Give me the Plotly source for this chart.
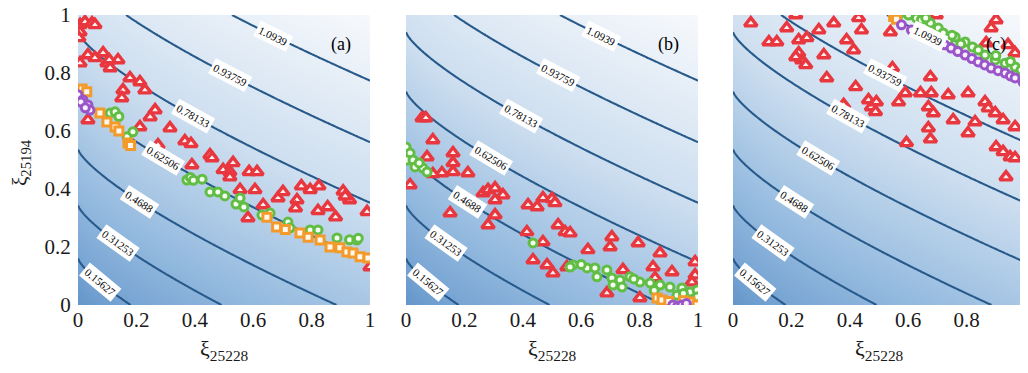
import math
import numpy as np
import plotly.graph_objects as go

# ---------------- data ----------------
tick_vals = [0, 0.2, 0.4, 0.6, 0.8, 1]
level_step = 0.1562655
n_levels = 7
label_x = [0.075, 0.137, 0.212, 0.291, 0.394, 0.52, 0.668]   # where each contour label sits (x)
panel_tags = ["(a)", "(b)", "(c)"]
x_title = "ξ<sub>25228</sub>"
y_title = "ξ<sub>25194</sub>"

# panel (a)
a_red_x = [0.007, 0.024, 0.048, 0.058, 0.007, 0.003,
           0.007, 0.034, 0.058, 0.086, 0.099, 0.11, 0.137, 0.107,
           0.178, 0.212, 0.229, 0.154, 0.15, 0.264, 0.247, 0.212, 0.274, 0.315, 0.366, 0.387, 0.452, 0.034,
           0.39, 0.459, 0.497, 0.52, 0.531, 0.52, 0.586, 0.613, 0.555, 0.606, 0.582, 0.634, 0.685, 0.702,
           0.75, 0.745, 0.765, 0.795, 0.825, 0.822, 0.855, 0.882, 0.908, 0.93, 0.915, 0.99, 1.0]
a_red_y = [0.966, 0.976, 0.972, 0.966, 0.941, 0.921,
           0.834, 0.862, 0.852, 0.869, 0.834, 0.817, 0.845, 0.845,
           0.783, 0.769, 0.741, 0.741, 0.714, 0.672, 0.648, 0.614, 0.552, 0.61, 0.565, 0.556, 0.517, 0.638,
           0.483, 0.507, 0.466, 0.459, 0.49, 0.441, 0.459, 0.459, 0.397, 0.397, 0.30, 0.345, 0.369, 0.39,
           0.362, 0.334, 0.41, 0.397, 0.41, 0.325, 0.338, 0.303, 0.392, 0.362, 0.375, 0.321, 0.131]
a_green_x = [0.11, 0.127, 0.14, 0.168, 0.188, 0.373, 0.385, 0.395, 0.425, 0.452,
             0.479, 0.503, 0.541, 0.555, 0.568, 0.63, 0.658, 0.719, 0.726, 0.795,
             0.822, 0.887, 0.93, 0.955, 0.96]
a_green_y = [0.662, 0.666, 0.65, 0.58, 0.597, 0.431, 0.44, 0.43, 0.434, 0.39,
             0.39, 0.376, 0.348, 0.369, 0.338, 0.31, 0.317, 0.286, 0.266, 0.259,
             0.259, 0.231, 0.225, 0.224, 0.23]
a_orange_x = [0.014, 0.03, 0.075, 0.099, 0.127, 0.14, 0.171, 0.18, 0.647, 0.68,
              0.76, 0.788, 0.829, 0.863, 0.897, 0.921, 0.942, 0.966, 0.993, 0.71]
a_orange_y = [0.745, 0.735, 0.662, 0.631, 0.614, 0.6, 0.559, 0.55, 0.303, 0.269,
              0.248, 0.234, 0.224, 0.2, 0.197, 0.183, 0.179, 0.166, 0.162, 0.26]
a_purple_x = [0.0, 0.017, 0.034, 0.041, 0.01, 0.025]
a_purple_y = [0.725, 0.707, 0.69, 0.672, 0.70, 0.68]

# panel (b)
b_red_x = [0.055, 0.068, 0.092, 0.072, 0.161, 0.161, 0.161, 0.123, 0.092, 0.212, 0.014,
           0.264, 0.281, 0.305, 0.332, 0.305, 0.151, 0.305, 0.281,
           0.418, 0.449, 0.469, 0.5, 0.414, 0.469, 0.435, 0.483, 0.503,
           0.51, 0.521, 0.545, 0.562, 0.705, 0.699, 0.623, 0.795, 0.87, 0.846, 0.911,
           0.853, 0.743, 0.99, 0.99, 0.979, 0.688, 0.801, 0.551]
b_red_y = [0.645, 0.645, 0.569, 0.51, 0.524, 0.49, 0.459, 0.455, 0.452, 0.455, 0.414,
           0.386, 0.397, 0.403, 0.379, 0.362, 0.317, 0.31, 0.276,
           0.345, 0.338, 0.369, 0.366, 0.252, 0.217, 0.155, 0.138, 0.11,
           0.352, 0.276, 0.252, 0.248, 0.234, 0.2, 0.19, 0.214, 0.179, 0.131, 0.114,
           0.093, 0.121, 0.148, 0.103, 0.079, 0.041, 0.024, 0.131]
b_green_x = [0.0, 0.014, 0.003, 0.024, 0.031, 0.058, 0.072, 0.045, 0.435, 0.572,
             0.62, 0.647, 0.688, 0.654, 0.705, 0.733, 0.709, 0.74, 0.767, 0.801,
             0.836, 0.87, 0.904, 0.945, 0.973, 0.997, 0.928, 0.997, 0.562, 0.6,
             0.78, 0.85, 0.95]
b_green_y = [0.545, 0.524, 0.5, 0.5, 0.476, 0.472, 0.459, 0.49, 0.214, 0.138,
             0.128, 0.128, 0.121, 0.097, 0.093, 0.086, 0.069, 0.062, 0.097, 0.079,
             0.076, 0.069, 0.062, 0.059, 0.045, 0.052, 0.034, 0.028, 0.131, 0.14,
             0.09, 0.05, 0.04]
b_orange_x = [0.86, 0.877, 0.9, 0.973, 0.997, 0.95]
b_orange_y = [0.024, 0.017, 0.012, 0.01, 0.0, 0.015]
b_purple_x = [0.914, 0.93, 0.945, 0.96]
b_purple_y = [0.0, -0.005, 0.0, 0.005]

# panel (c)
c_red_x = [0.061, 0.215, 0.184, 0.123, 0.15, 0.225, 0.253, 0.225, 0.235, 0.249, 0.215, 0.294,
           0.345, 0.311, 0.321, 0.389, 0.413, 0.43, 0.44, 0.42, 0.379, 0.464, 0.474, 0.488,
           0.539, 0.546, 0.567, 0.59, 0.594, 0.676, 0.696, 0.642, 0.679, 0.669, 0.686, 0.669,
           0.676, 0.737, 0.805, 0.754, 0.829, 0.805, 0.863, 0.874, 0.898, 0.925, 0.966, 0.901,
           0.925, 0.949, 0.966, 0.935, 0.901, 0.884, 0.867, 0.942, 0.966, 0.491]
c_red_y = [0.972, 1.0, 0.955, 0.907, 0.907, 0.914, 0.921, 0.869, 0.845, 0.828, 0.855, 0.948,
           0.972, 0.862, 0.783, 0.914, 0.879, 0.99, 0.948, 0.752, 0.69, 0.707, 0.683, 0.666,
           0.941, 0.817, 0.7, 0.731, 0.559, 0.786, 1.0, 0.731, 0.731, 0.683, 0.662, 0.61,
           0.572, 0.724, 0.731, 0.638, 0.631, 0.593, 0.7, 0.679, 0.662, 0.638, 0.614, 0.545,
           0.528, 0.51, 0.507, 0.441, 0.983, 0.955, 0.903, 0.897, 0.869, 0.70]
c_green_x = [0.567, 0.601, 0.628, 0.645, 0.676, 0.703, 0.72, 0.737, 0.761, 0.795,
             0.82, 0.84, 0.863, 0.898, 0.932, 0.966, 0.986, 0.75, 0.78, 0.9, 0.95, 0.66]
c_green_y = [1.0, 1.0, 0.99, 0.983, 0.972, 0.955, 0.938, 0.914, 0.924, 0.907,
             0.89, 0.879, 0.862, 0.845, 0.834, 0.821, 0.81, 0.93, 0.9, 0.86, 0.84, 0.99]
c_orange_x = [0.55, 0.56]
c_orange_y = [0.995, 0.985]
c_purple_x = [0.577, 0.611, 0.635, 0.659, 0.68, 0.703, 0.725, 0.747, 0.77, 0.795,
              0.818, 0.84, 0.862, 0.884, 0.908, 0.932, 0.95, 0.966, 0.993]
c_purple_y = [0.966, 0.948, 0.94, 0.931, 0.92, 0.907, 0.897, 0.886, 0.874, 0.862,
              0.85, 0.838, 0.828, 0.817, 0.808, 0.8, 0.79, 0.783, 0.769]

panels = [
    dict(red=(a_red_x, a_red_y), green=(a_green_x, a_green_y), orange=(a_orange_x, a_orange_y), purple=(a_purple_x, a_purple_y)),
    dict(red=(b_red_x, b_red_y), green=(b_green_x, b_green_y), orange=(b_orange_x, b_orange_y), purple=(b_purple_x, b_purple_y)),
    dict(red=(c_red_x, c_red_y), green=(c_green_x, c_green_y), orange=(c_orange_x, c_orange_y), purple=(c_purple_x, c_purple_y)),
]


# ---------------- background field ----------------
def field(x, y):
    P = 1.1
    return ((0.51 * np.power(x, 0.69)) ** P + (0.826 * np.power(y, 0.91)) ** P) ** (1 / P)


grid = np.linspace(0, 1, 201)
GX, GY = np.meshgrid(grid, grid)
Z = field(GX, GY)

bg_scale = [[0.0, "rgb(98,148,202)"], [0.3, "rgb(148,186,223)"],
            [0.6, "rgb(203,221,239)"], [1.0, "rgb(247,249,252)"]]

styles = {
    "red": dict(symbol="triangle-up", size=11, color="#fff0f0", line=dict(color="#e8373f", width=3.4)),
    "green": dict(symbol="circle", size=8, color="#f4fff0", line=dict(color="#62bd45", width=3)),
    "orange": dict(symbol="square", size=8, color="#fff8ee", line=dict(color="#f39a2a", width=3)),
    "purple": dict(symbol="circle", size=8, color="#f8f0ff", line=dict(color="#9a55c8", width=3)),
}

FONT = "Liberation Serif"
OFF = 8                      # page body margin of the browser
W, H = 1020, 365
x_px = [(78, 370), (406, 698), (733, 1025)]     # target pixel extents in the screenshot
y_top, y_bot = 15, 305
y_dom = [(H - (y_bot - OFF)) / H, (H - (y_top - OFF)) / H]
px_per_x = 292.0
px_per_y = 290.0


def solve_y(x, level):
    lo, hi = 0.0, 1.5
    for _ in range(60):
        mid = 0.5 * (lo + hi)
        if field(x, mid) < level:
            lo = mid
        else:
            hi = mid
    return 0.5 * (lo + hi)


label_specs = []
for k in range(n_levels):
    lev = level_step * (k + 1)
    lx = label_x[k]
    ly = solve_y(lx, lev)
    e = 1e-4
    fx = (field(lx + e, ly) - field(lx - e, ly)) / (2 * e)
    fy = (field(lx, ly + e) - field(lx, ly - e)) / (2 * e)
    ang = math.degrees(math.atan2(fx * px_per_y, fy * px_per_x))
    label_specs.append((lx, ly, ang, f"{lev:.5g}"))

fig = go.Figure()
for i, pnl in enumerate(panels):
    xa = "x" if i == 0 else f"x{i+1}"
    ya = "y" if i == 0 else f"y{i+1}"
    fig.add_trace(go.Heatmap(x=grid, y=grid, z=Z, colorscale=bg_scale, zmin=0, zmax=1.26,
                             zsmooth="best", showscale=False, hoverinfo="skip", xaxis=xa, yaxis=ya))
    fig.add_trace(go.Contour(x=grid, y=grid, z=Z, autocontour=False,
                             contours=dict(start=level_step, end=n_levels * level_step + 1e-6, size=level_step,
                                           coloring="none", showlabels=False),
                             line=dict(color="#275a8a", width=2.1), showscale=False,
                             hoverinfo="skip", xaxis=xa, yaxis=ya))
    for (lx, ly, ang, txt) in label_specs:
        fig.add_annotation(x=lx, y=ly, xref=xa, yref=ya, text=txt, showarrow=False, textangle=ang,
                           bgcolor="white", borderpad=2,
                           font=dict(family=FONT, size=11, color="black"))
    for key in ["red", "green", "orange", "purple"]:
        xs, ys = pnl[key]
        fig.add_trace(go.Scatter(x=xs, y=ys, mode="markers", marker=styles[key],
                                 showlegend=False, xaxis=xa, yaxis=ya))
    fig.add_annotation(x=0.9, y=0.9, xref=xa, yref=ya, text=panel_tags[i], showarrow=False,
                       font=dict(family=FONT, size=18, color="black"))
    # x axis title
    cx = ((x_px[i][0] + x_px[i][1]) / 2 - OFF) / W
    fig.add_annotation(x=cx, y=(H - (350 - OFF)) / H, xref="paper", yref="paper", text=x_title,
                       showarrow=False, xanchor="center", yanchor="middle",
                       font=dict(family=FONT, size=22, color="#1a1a1a"))

# y axis title
fig.add_annotation(x=(21 - OFF) / W, y=(H - (163 - OFF)) / H, xref="paper", yref="paper", text=y_title,
                   showarrow=False, textangle=-90, xanchor="center", yanchor="middle",
                   font=dict(family=FONT, size=21, color="#1a1a1a"))

layout = dict(width=W, height=H, margin=dict(l=0, r=0, t=0, b=0),
              paper_bgcolor="white", plot_bgcolor="white", showlegend=False)
for i in range(3):
    xk = "xaxis" if i == 0 else f"xaxis{i+1}"
    yk = "yaxis" if i == 0 else f"yaxis{i+1}"
    layout[xk] = dict(domain=[(x_px[i][0] - OFF) / W, (x_px[i][1] - OFF) / W], range=[0, 1],
                      anchor="y" if i == 0 else f"y{i+1}", ticklabeloverflow="allow",
                      tickvals=tick_vals, ticks="", showgrid=False, zeroline=False, showline=False,
                      automargin=False, tickfont=dict(family=FONT, size=21, color="#1a1a1a"))
    layout[yk] = dict(domain=y_dom, range=[0, 1], anchor="x" if i == 0 else f"x{i+1}",
                      tickvals=tick_vals, ticks="outside", ticklen=2, tickcolor="rgba(0,0,0,0)",
                      ticklabeloverflow="allow",
                      showgrid=False, zeroline=False, showline=False, automargin=False,
                      showticklabels=(i == 0),
                      tickfont=dict(family=FONT, size=21, color="#1a1a1a"))
fig.update_layout(**layout)

fig.write_html("out.html")
